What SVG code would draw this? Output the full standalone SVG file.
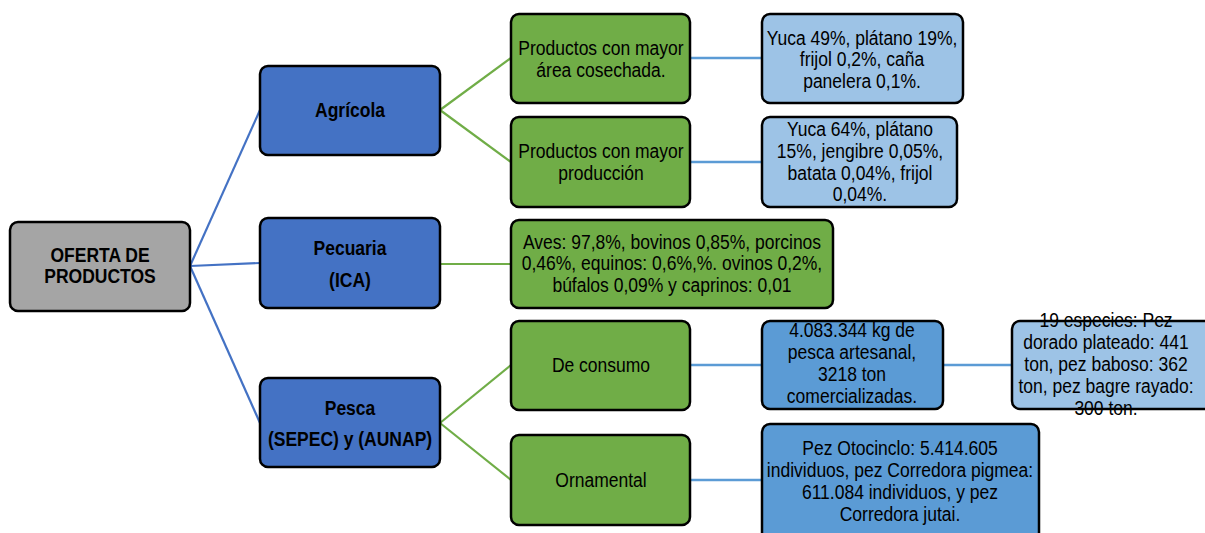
<svg xmlns="http://www.w3.org/2000/svg" width="1205" height="533" viewBox="0 0 1205 533">
<style>
.box{stroke:#000;stroke-width:2.5}
.gray{fill:#A5A5A5}.b1{fill:#4472C4}.gr{fill:#70AD47}.lb{fill:#9DC3E6}.mb{fill:#5B9BD5}
text{font-family:"Liberation Sans",Arial,sans-serif;font-size:20px;fill:#000;text-anchor:middle}
.bold{font-weight:bold}
.c1{stroke:#4472C4;stroke-width:2.2;fill:none}
.c2{stroke:#70AD47;stroke-width:2.2;fill:none}
.c3{stroke:#5B9BD5;stroke-width:2.6;fill:none}
</style>
<rect width="1205" height="533" fill="#fff"/>
<g id="connectors">
<line class="c1" x1="190" y1="266" x2="260" y2="110"/>
<line class="c1" x1="190" y1="266" x2="260" y2="263"/>
<line class="c1" x1="190" y1="266" x2="260" y2="423"/>
<line class="c2" x1="440" y1="110" x2="511" y2="58"/>
<line class="c2" x1="440" y1="110" x2="511" y2="162"/>
<line class="c2" x1="440" y1="264" x2="511" y2="264"/>
<line class="c2" x1="440" y1="423" x2="511" y2="365"/>
<line class="c2" x1="440" y1="423" x2="511" y2="480"/>
<line class="c3" x1="690" y1="58" x2="762" y2="58"/>
<line class="c3" x1="690" y1="162" x2="762" y2="162"/>
<line class="c3" x1="690" y1="365" x2="762" y2="365"/>
<line class="c3" x1="943" y1="365" x2="1012" y2="365"/>
<line class="c3" x1="690" y1="480" x2="762" y2="480"/>
</g>
<g id="root">
<rect class="box gray" x="10" y="222" width="180" height="89" rx="8"/>
<g transform="translate(100,0) scale(0.875,1)" class="bold"><text x="0" y="262" class="bold">OFERTA DE</text><text x="0" y="283" class="bold">PRODUCTOS</text></g>
</g>
<g id="agricola">
<rect class="box b1" x="260" y="66" width="180" height="89" rx="8"/>
<g transform="translate(350,0) scale(0.875,1)"><text x="0" y="117" class="bold">Agrícola</text></g>
</g>
<g id="pecuaria">
<rect class="box b1" x="260" y="218" width="180" height="90" rx="8"/>
<g transform="translate(350,0) scale(0.875,1)"><text x="0" y="255" class="bold">Pecuaria</text><text x="0" y="287" class="bold">(ICA)</text></g>
</g>
<g id="pesca">
<rect class="box b1" x="260" y="378" width="180" height="89" rx="8"/>
<g transform="translate(350,0) scale(0.875,1)"><text x="0" y="415" class="bold">Pesca</text><text x="0" y="446" class="bold">(SEPEC) y (AUNAP)</text></g>
</g>
<g id="area">
<rect class="box gr" x="511" y="14" width="179" height="89" rx="8"/>
<g transform="translate(601,0) scale(0.875,1)"><text x="0" y="55">Productos con mayor</text><text x="0" y="77">área cosechada.</text></g>
</g>
<g id="produccion">
<rect class="box gr" x="511" y="117" width="179" height="90" rx="8"/>
<g transform="translate(601,0) scale(0.875,1)"><text x="0" y="158">Productos con mayor</text><text x="0" y="180">producción</text></g>
</g>
<g id="area-datos">
<rect class="box lb" x="762" y="14" width="201" height="89" rx="8"/>
<g transform="translate(862,0) scale(0.875,1)"><text x="0" y="45">Yuca 49%, plátano 19%,</text><text x="0" y="66">frijol 0,2%, caña</text><text x="0" y="88">panelera 0,1%.</text></g>
</g>
<g id="produccion-datos">
<rect class="box lb" x="762" y="117" width="195" height="90" rx="8"/>
<g transform="translate(860,0) scale(0.875,1)"><text x="0" y="136">Yuca 64%, plátano</text><text x="0" y="158">15%, jengibre 0,05%,</text><text x="0" y="180">batata 0,04%, frijol</text><text x="0" y="201">0,04%.</text></g>
</g>
<g id="pecuaria-datos">
<rect class="box gr" x="511" y="220" width="322" height="88" rx="8"/>
<g transform="translate(672,0) scale(0.875,1)"><text x="0" y="249">Aves: 97,8%, bovinos 0,85%, porcinos</text><text x="0" y="270">0,46%, equinos: 0,6%,%. ovinos 0,2%,</text><text x="0" y="292">búfalos 0,09% y caprinos: 0,01</text></g>
</g>
<g id="consumo">
<rect class="box gr" x="511" y="321" width="179" height="89" rx="8"/>
<g transform="translate(601,0) scale(0.875,1)"><text x="0" y="372">De consumo</text></g>
</g>
<g id="ornamental">
<rect class="box gr" x="511" y="435" width="179" height="90" rx="8"/>
<g transform="translate(601,0) scale(0.875,1)"><text x="0" y="487">Ornamental</text></g>
</g>
<g id="consumo-datos">
<rect class="box mb" x="762" y="321" width="181" height="88" rx="8"/>
<g transform="translate(852,0) scale(0.875,1)"><text x="0" y="337">4.083.344 kg de</text><text x="0" y="359">pesca artesanal,</text><text x="0" y="381">3218 ton</text><text x="0" y="403">comercializadas.</text></g>
</g>
<g id="especies">
<rect class="box lb" x="1012" y="321" width="205" height="88" rx="8"/>
<g transform="translate(1106,0) scale(0.875,1)"><text x="0" y="327">19 especies: Pez</text><text x="0" y="349">dorado plateado: 441</text><text x="0" y="371">ton, pez baboso: 362</text><text x="0" y="393">ton, pez bagre rayado:</text><text x="0" y="415">300 ton.</text></g>
</g>
<g id="ornamental-datos">
<rect class="box mb" x="762" y="424" width="277" height="125" rx="8"/>
<g transform="translate(900,0) scale(0.875,1)"><text x="0" y="455">Pez Otocinclo: 5.414.605</text><text x="0" y="477">individuos, pez Corredora pigmea:</text><text x="0" y="499">611.084 individuos, y pez</text><text x="0" y="521">Corredora jutai.</text></g>
</g>
</svg>
